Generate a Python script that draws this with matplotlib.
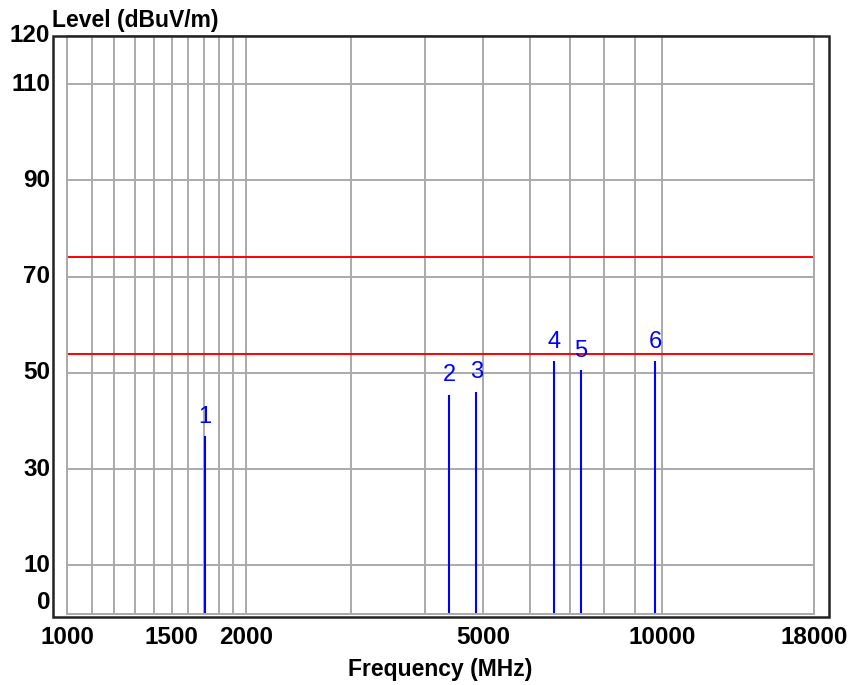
import matplotlib.pyplot as plt
import matplotlib.patches as patches
import matplotlib.transforms as mtransforms

plt.rcParams['font.family'] = ['Liberation Sans', 'DejaVu Sans']

# marker data (MHz, dBuV/m)
freqs = [1705, 4390, 4874, 6580, 7311, 9748]
levels = [36.8, 45.5, 46.1, 52.5, 50.6, 52.5]
marker_ids = ['1', '2', '3', '4', '5', '6']

# limit lines
limits = [74, 54]

xtick_vals = [1000, 1500, 2000, 5000, 10000, 18000]
xgrid_minor = [1100, 1200, 1300, 1400, 1600, 1700, 1800, 1900,
               3000, 4000, 6000, 7000, 8000, 9000]
ytick_vals = [0, 10, 30, 50, 70, 90, 110, 120]
ygrid_vals = [10, 30, 50, 70, 90, 110]

W, H = 852, 685
fig = plt.figure(figsize=(W / 100, H / 100), dpi=100)

# inner plotting area (grid area)
left, right, top, bottom = 67, 814, 36, 613.5
ax = fig.add_axes([left / W, 1 - bottom / H, (right - left) / W, (bottom - top) / H])
ax.set_xscale('log')
ax.set_xlim(1000, 18000)
ax.set_ylim(0, 120)

grid_c = '#aaaaaa'
for s in ax.spines.values():
    s.set_color(grid_c)
    s.set_linewidth(1.4)

ax.set_xticks(xtick_vals)
ax.set_xticklabels([str(v) for v in xtick_vals], fontsize=17.5, fontweight='bold')
ax.set_xticks(xgrid_minor, minor=True)
ax.xaxis.set_minor_formatter(plt.NullFormatter())
ax.set_yticks(ygrid_vals)
ax.set_yticklabels([])
ax.tick_params(axis='both', which='both', length=0)
ax.tick_params(axis='x', pad=9)
ax.grid(True, which='both', color=grid_c, linewidth=1.4)
ax.set_axisbelow(True)

# y labels
ytrans = ax.get_yaxis_transform()
for v in ytick_vals:
    dy = 11 if v == 0 else 0
    tr = mtransforms.offset_copy(ytrans, fig=fig, x=-17, y=dy, units='dots')
    ax.text(0, v, str(v), transform=tr, ha='right', va='center',
            fontsize=17.5, fontweight='bold', clip_on=False)

# limit lines
for lim in limits:
    ax.axhline(lim, color='#ff0000', linewidth=1.4)

# markers
for f, lv, mid in zip(freqs, levels, marker_ids):
    ax.vlines(f, 0, lv, color='#0000ff', linewidth=1.5)
    ax.annotate(mid, (f, lv), xytext=(0, 6), textcoords='offset points',
                ha='center', va='bottom', color='#0000ff', fontsize=17)

# outer black frame
frame = patches.Rectangle((53 / W, 1 - 617 / H), (829 - 53) / W, (617 - 36) / H,
                          transform=fig.transFigure, fill=False,
                          edgecolor='#222222', linewidth=1.8)
fig.patches.append(frame)

fig.text(52 / W, 1 - 27 / H, 'Level (dBuV/m)', ha='left', va='baseline',
         fontsize=16.5, fontweight='bold')
fig.text(440 / W, 1 - 676 / H, 'Frequency (MHz)', ha='center', va='baseline',
         fontsize=16.5, fontweight='bold')

fig.savefig('out.png', dpi=100)
